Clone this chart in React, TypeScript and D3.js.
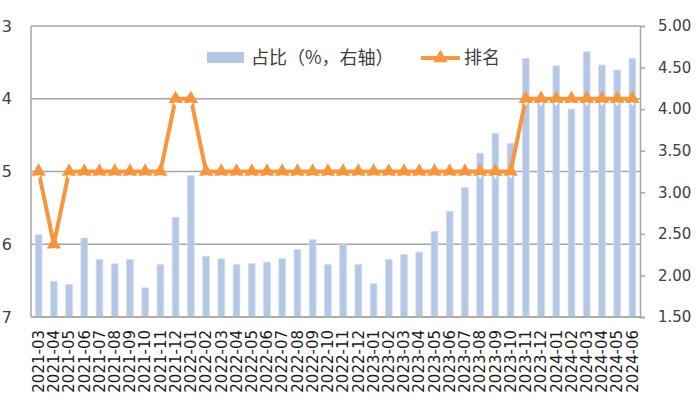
import { useEffect, useRef } from "react";
import * as d3 from "d3";

// months on the x axis
const MONTHS = [
  "2021-03", "2021-04", "2021-05", "2021-06", "2021-07", "2021-08", "2021-09", "2021-10",
  "2021-11", "2021-12", "2022-01", "2022-02", "2022-03", "2022-04", "2022-05", "2022-06",
  "2022-07", "2022-08", "2022-09", "2022-10", "2022-11", "2022-12", "2023-01", "2023-02",
  "2023-03", "2023-04", "2023-05", "2023-06", "2023-07", "2023-08", "2023-09", "2023-10",
  "2023-11", "2023-12", "2024-01", "2024-02", "2024-03", "2024-04", "2024-05", "2024-06",
];

// share (%, right axis)
const SHARE = [
  2.49, 1.93, 1.89, 2.45, 2.19, 2.14, 2.19, 1.85, 2.13, 2.70,
  3.20, 2.23, 2.20, 2.13, 2.14, 2.16, 2.20, 2.31, 2.43, 2.13,
  2.37, 2.13, 1.90, 2.19, 2.25, 2.28, 2.53, 2.77, 3.06, 3.47,
  3.71, 3.59, 4.61, 4.15, 4.52, 4.00, 4.69, 4.53, 4.47, 4.61,
];

// rank (left axis, inverted)
const RANK = [
  5, 6, 5, 5, 5, 5, 5, 5, 5, 4,
  4, 5, 5, 5, 5, 5, 5, 5, 5, 5,
  5, 5, 5, 5, 5, 5, 5, 5, 5, 5,
  5, 5, 4, 4, 4, 4, 4, 4, 4, 4,
];

const LEFT_TICKS = [3, 4, 5, 6, 7];
const RIGHT_TICKS = [1.5, 2, 2.5, 3, 3.5, 4, 4.5, 5];

const BAR_COLOR = "#b4c7e7";
const LINE_COLOR = "#f8963f";
const GRID_COLOR = "#a6a6a6";
const TEXT_COLOR = "#404040";
const NUM_FONT = "'DejaVu Sans', sans-serif";
const CJK_FONT = "'Noto Sans CJK SC', sans-serif";

export default function App() {
  const svgRef = useRef<SVGSVGElement>(null);

  useEffect(() => {
    if (!svgRef.current) return;
    const width = 700;
    const height = 420;
    const margin = { top: 26, right: 60, bottom: 103, left: 31 };
    const x0 = margin.left;
    const x1 = width - margin.right;
    const y0 = margin.top;
    const y1 = height - margin.bottom;

    const svg = d3.select(svgRef.current);
    svg.selectAll("*").remove();
    svg.append("rect").attr("width", width).attr("height", height).attr("fill", "#fff");

    const x = d3.scaleBand<string>().domain(MONTHS).range([x0, x1]).paddingInner(0.56).paddingOuter(0.28);
    const yL = d3.scaleLinear().domain([3, 7]).range([y0, y1]);
    const yR = d3.scaleLinear().domain([1.5, 5]).range([y1, y0]);

    // Grid (left axis)
    svg.append("g")
      .selectAll("line")
      .data(LEFT_TICKS)
      .join("line")
      .attr("x1", x0)
      .attr("x2", x1)
      .attr("y1", (d) => yL(d))
      .attr("y2", (d) => yL(d))
      .attr("stroke", GRID_COLOR)
      .attr("stroke-width", 1.5);

    // Bars
    svg.append("g")
      .selectAll("rect")
      .data(SHARE)
      .join("rect")
      .attr("x", (_, i) => x(MONTHS[i])!)
      .attr("y", (d) => yR(d))
      .attr("width", x.bandwidth())
      .attr("height", (d) => y1 - yR(d))
      .attr("fill", BAR_COLOR)
      .attr("stroke", "#d0dcf0")
      .attr("stroke-width", 0.8);

    // Frame: left, right axis and bottom
    svg.append("line").attr("x1", x0).attr("x2", x0).attr("y1", y0).attr("y2", y1)
      .attr("stroke", GRID_COLOR).attr("stroke-width", 1.5);

    const rightAxis = svg.append("g")
      .attr("transform", `translate(${x1},0)`)
      .call(d3.axisRight(yR).tickValues(RIGHT_TICKS).tickSize(5).tickPadding(13).tickFormat(d3.format(".2f")));
    rightAxis.select(".domain").attr("stroke", GRID_COLOR).attr("stroke-width", 1.5);
    rightAxis.selectAll(".tick line").attr("stroke", GRID_COLOR).attr("stroke-width", 1.5);
    rightAxis.selectAll("text")
      .attr("font-family", NUM_FONT)
      .attr("font-size", 15)
      .attr("fill", TEXT_COLOR);

    const leftAxis = svg.append("g")
      .attr("transform", `translate(${x0},0)`)
      .call(d3.axisLeft(yL).tickValues(LEFT_TICKS).tickSize(0).tickPadding(19).tickFormat(d3.format("d")));
    leftAxis.select(".domain").remove();
    leftAxis.selectAll("text")
      .attr("font-family", NUM_FONT)
      .attr("font-size", 16)
      .attr("fill", TEXT_COLOR);

    const bottomAxis = svg.append("g")
      .attr("transform", `translate(0,${y1})`)
      .call(d3.axisBottom(x).tickSize(0).tickPadding(0));
    bottomAxis.select(".domain").attr("stroke", GRID_COLOR).attr("stroke-width", 1.5)
      .attr("d", `M${x0},0H${x1}`);
    bottomAxis.selectAll("text")
      .attr("font-family", NUM_FONT)
      .attr("font-size", 15)
      .attr("fill", "#1a1a1a")
      .attr("transform", "rotate(-90)")
      .attr("text-anchor", "end")
      .attr("x", -13)
      .attr("y", 0)
      .attr("dy", "0.35em");

    // Rank line
    const cx = (i: number) => x(MONTHS[i])! + x.bandwidth() / 2;
    const line = d3.line<number>().x((_, i) => cx(i)).y((d) => yL(d));
    svg.append("path")
      .datum(RANK)
      .attr("d", line)
      .attr("fill", "none")
      .attr("stroke", LINE_COLOR)
      .attr("stroke-width", 4)
      .attr("stroke-linejoin", "round");

    const tri = d3.symbol().type(d3.symbolTriangle).size(90);
    const notch = d3.symbol().type(d3.symbolTriangle).size(8);
    const markers = svg.append("g")
      .selectAll("g")
      .data(RANK)
      .join("g")
      .attr("transform", (d, i) => `translate(${cx(i)},${yL(d)})`);
    markers.append("path").attr("d", tri).attr("fill", LINE_COLOR);
    markers.append("path").attr("d", notch).attr("fill", "#fff")
      .attr("transform", "translate(0,5) rotate(180)");

    // Legend
    const lg = svg.append("g").attr("font-family", CJK_FONT).attr("font-size", 18).attr("fill", TEXT_COLOR);
    lg.append("rect").attr("x", 207).attr("y", 52).attr("width", 37).attr("height", 11).attr("fill", BAR_COLOR);
    lg.append("text").attr("x", 251).attr("y", 58).attr("dy", "0.35em").text("占比（%，右轴）");
    lg.append("line").attr("x1", 421).attr("x2", 460).attr("y1", 58).attr("y2", 58)
      .attr("stroke", LINE_COLOR).attr("stroke-width", 4);
    lg.append("path").attr("d", tri).attr("fill", LINE_COLOR).attr("transform", "translate(440.5,58)");
    lg.append("text").attr("x", 464).attr("y", 58).attr("dy", "0.35em").text("排名");
  }, []);

  return (
    <svg
      ref={svgRef}
      width={700}
      height={420}
      style={{ position: "absolute", left: 0, top: 0, display: "block" }}
    />
  );
}
